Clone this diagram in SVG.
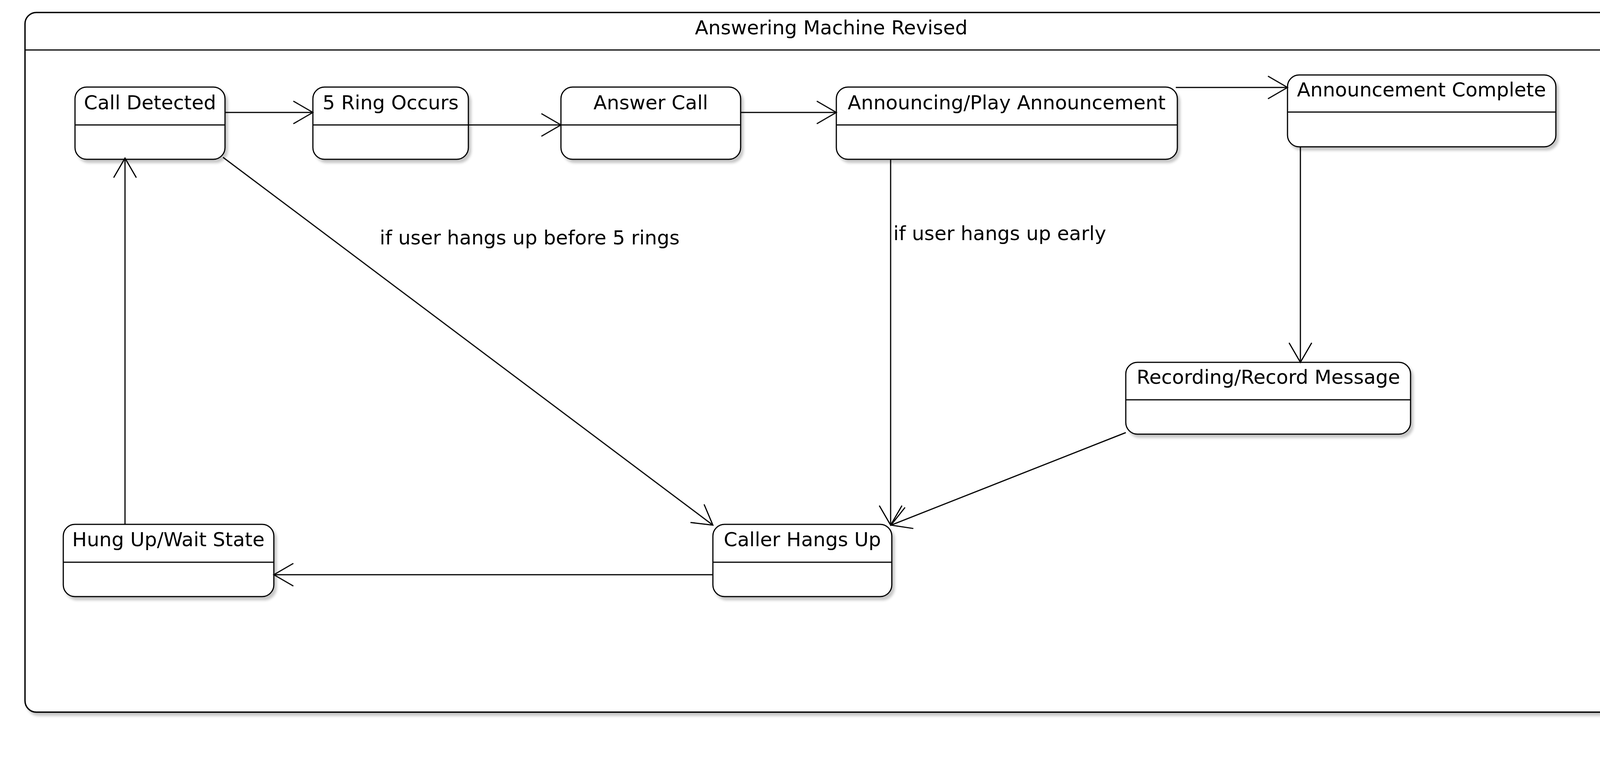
<svg xmlns="http://www.w3.org/2000/svg" width="4280" height="1944" viewBox="0 0 4280 1944">
<style>
  .frame { fill: #ffffff; stroke: #000000; stroke-width: 3.5; filter: url(#shadow); }
  .node { fill: #ffffff; stroke: #000000; stroke-width: 3; filter: url(#shadow); }
  .div { stroke: #000000; stroke-width: 3; }
  .t { font-family: "DejaVu Sans", "Liberation Sans", sans-serif; font-size: 50px; fill: #000000; }
  .c { text-anchor: middle; }
  .conn { fill: none; stroke: #000000; stroke-width: 3; marker-end: url(#open); }
</style>
<defs>
  <filter id="shadow" x="-5%" y="-5%" width="110%" height="115%">
    <feDropShadow dx="6" dy="8" stdDeviation="3" flood-color="#000000" flood-opacity="0.22"/>
  </filter>
  <marker id="open" markerUnits="userSpaceOnUse" markerWidth="70" markerHeight="80" viewBox="-60 -40 70 80" refX="0" refY="0" orient="auto" overflow="visible">
    <path d="M-50,-29 L0,0 L-50,29" fill="none" stroke="#000000" stroke-width="3"/>
  </marker>
</defs>
<rect width="4280" height="1944" fill="#ffffff"/>

<g id="frame">
  <rect class="frame" x="64" y="32" width="4128" height="1792" rx="29" ry="29"/>
  <line class="div" x1="64" y1="128" x2="4192" y2="128"/>
  <text class="t c" x="2128" y="88">Answering Machine Revised</text>
</g>

<g id="call-detected">
  <rect class="node" x="192" y="223" width="384" height="185" rx="30" ry="30"/>
  <line class="div" x1="192" y1="320" x2="576" y2="320"/>
  <text class="t c" x="384" y="280">Call Detected</text>
</g>

<g id="five-ring-occurs">
  <rect class="node" x="801" y="223" width="398" height="185" rx="30" ry="30"/>
  <line class="div" x1="801" y1="320" x2="1199" y2="320"/>
  <text class="t c" x="1000" y="280">5 Ring Occurs</text>
</g>

<g id="answer-call">
  <rect class="node" x="1436" y="223" width="460" height="185" rx="30" ry="30"/>
  <line class="div" x1="1436" y1="320" x2="1896" y2="320"/>
  <text class="t c" x="1666" y="280">Answer Call</text>
</g>

<g id="announcing">
  <rect class="node" x="2141" y="223" width="873" height="185" rx="30" ry="30"/>
  <line class="div" x1="2141" y1="320" x2="3014" y2="320"/>
  <text class="t c" x="2577" y="280">Announcing/Play Announcement</text>
</g>

<g id="announcement-complete">
  <rect class="node" x="3296" y="192" width="687" height="184" rx="30" ry="30"/>
  <line class="div" x1="3296" y1="287" x2="3983" y2="287"/>
  <text class="t c" x="3639" y="247">Announcement Complete</text>
</g>

<g id="recording">
  <rect class="node" x="2882" y="928" width="729" height="184" rx="30" ry="30"/>
  <line class="div" x1="2882" y1="1024" x2="3611" y2="1024"/>
  <text class="t c" x="3247" y="983">Recording/Record Message</text>
</g>

<g id="hung-up">
  <rect class="node" x="162" y="1343" width="539" height="185" rx="30" ry="30"/>
  <line class="div" x1="162" y1="1440" x2="701" y2="1440"/>
  <text class="t c" x="431" y="1399">Hung Up/Wait State</text>
</g>

<g id="caller-hangs-up">
  <rect class="node" x="1825" y="1343" width="458" height="185" rx="30" ry="30"/>
  <line class="div" x1="1825" y1="1440" x2="2283" y2="1440"/>
  <text class="t c" x="2054" y="1399">Caller Hangs Up</text>
</g>

<g id="connectors">
  <path class="conn" d="M576,288 L801,288"/>
  <path class="conn" d="M1199,320 L1436,320"/>
  <path class="conn" d="M1896,288 L2141,288"/>
  <path class="conn" d="M3010,224 L3296,224"/>
  <path class="conn" d="M3329,376 L3329,928"/>
  <path class="conn" d="M1825,1472 L701,1472"/>
  <path class="conn" d="M320,1343 L320,405"/>
  <path class="conn" d="M571,403 L1825,1345"/>
  <path class="conn" d="M2280,408 L2280,1345"/>
  <path class="conn" d="M2882,1108 L2281,1345"/>
  <text class="t" x="972" y="626">if user hangs up before 5 rings</text>
  <text class="t" x="2287" y="615">if user hangs up early</text>
</g>
</svg>
